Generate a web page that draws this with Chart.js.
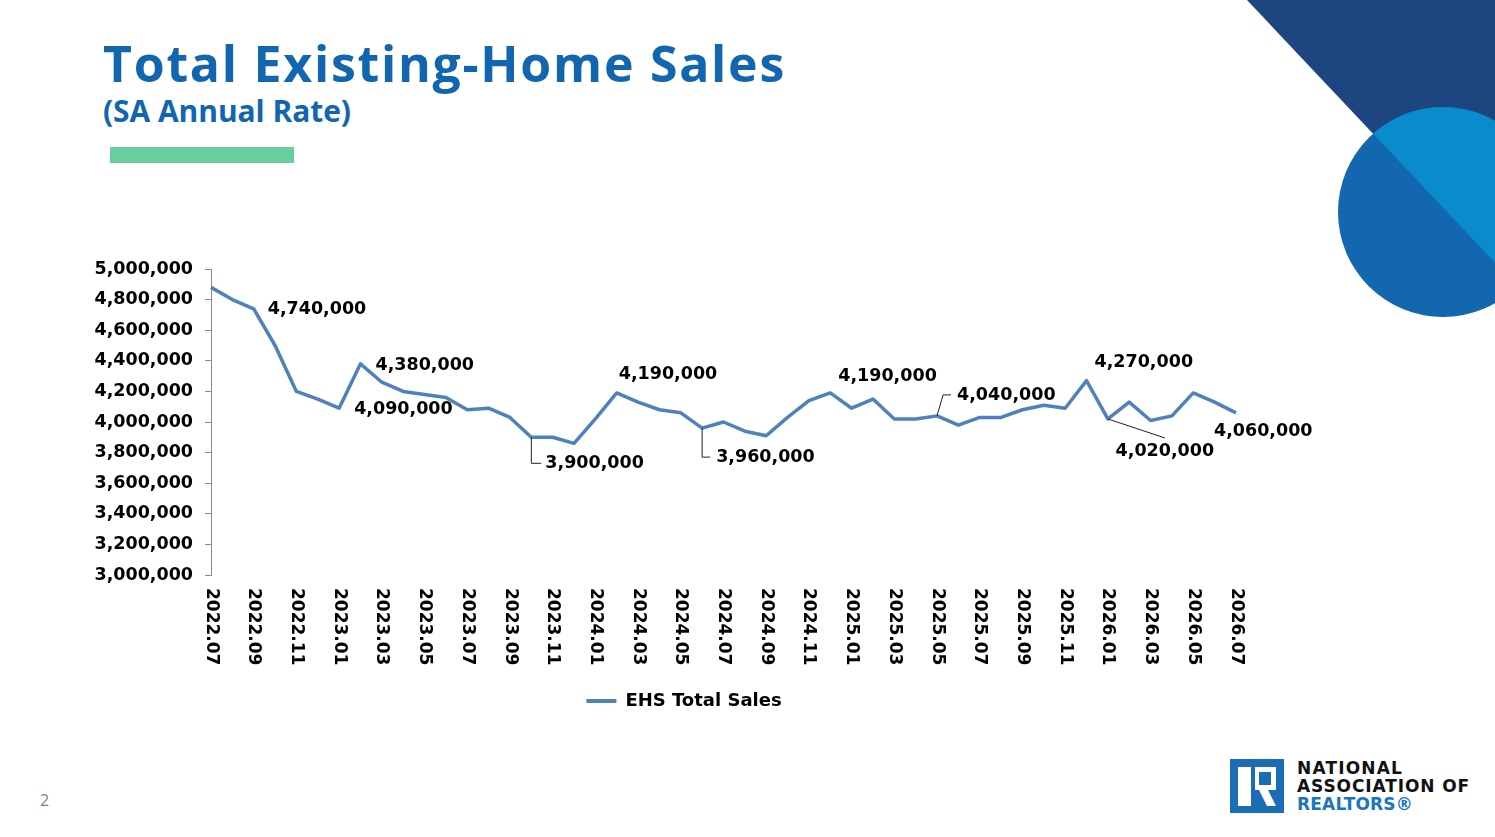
<!DOCTYPE html>
<html>
<head>
<meta charset="utf-8">
<script src="https://cdn.jsdelivr.net/npm/chart.js@4.4.1/dist/chart.umd.min.js"></script>
<style>
html,body{margin:0;padding:0;background:#fff;}
body{width:1495px;height:837px;overflow:hidden;position:relative;}
#deco{position:absolute;left:0;top:0;}
#wrap{position:absolute;left:0;top:0;width:1368px;height:837px;}
.fit{position:absolute;white-space:nowrap;}
#title{left:103px;top:38px;font:700 50px/50px 'Open Sans',sans-serif;color:#1266B0;}
#subtitle{left:103px;top:96px;font:700 30px/30px 'Open Sans',sans-serif;color:#1266B0;}
#bar{position:absolute;left:110px;top:147px;width:184px;height:16px;background:#66CF9B;}
#page{position:absolute;left:40px;top:792px;font:400 16px/16px 'Open Sans',sans-serif;color:#7f7f7f;}
.logo{position:absolute;left:1297px;font:700 17px/17px 'DejaVu Sans',sans-serif;color:#111;}
</style>
</head>
<body>
<svg id="deco" width="1495" height="837" viewBox="0 0 1495 837">
  <defs>
    <clipPath id="rightOfDiag"><polygon points="1247,0 1600,0 1600,374"/></clipPath>
  </defs>
  <polygon points="1247,0 1495,0 1495,263" fill="#1D4580"/>
  <circle cx="1443" cy="212" r="105" fill="#1267AE"/>
  <circle cx="1443" cy="212" r="105" fill="#0A8BCB" clip-path="url(#rightOfDiag)"/>
  <!-- NAR logo mark -->
  <rect x="1230" y="759" width="54" height="54" fill="#1B6DB5"/>
  <rect x="1238" y="767" width="13" height="39" fill="#fff"/>
  <path d="M1255 767 H1276 V790 H1268 L1276 806 H1267 L1259 790 H1255 Z M1259 772 V785 H1271 V772 Z" fill="#fff" fill-rule="evenodd"/>
</svg>

<div id="title" class="fit" data-w="683">Total Existing-Home Sales</div>
<div id="subtitle" class="fit" data-w="248">(SA Annual Rate)</div>
<div id="bar"></div>
<div id="page">2</div>
<div class="logo fit" style="top:760px" data-w="106">NATIONAL</div>
<div class="logo fit" style="top:778px" data-w="173">ASSOCIATION OF</div>
<div class="logo fit" style="top:796px;color:#1B75BC" data-w="116">REALTORS®</div>

<div id="wrap"><canvas id="c" width="1368" height="837"></canvas></div>

<script>
// ---- data ----
const months = [
  '2022.07','2022.08','2022.09','2022.10','2022.11','2022.12',
  '2023.01','2023.02','2023.03','2023.04','2023.05','2023.06',
  '2023.07','2023.08','2023.09','2023.10','2023.11','2023.12',
  '2024.01','2024.02','2024.03','2024.04','2024.05','2024.06',
  '2024.07','2024.08','2024.09','2024.10','2024.11','2024.12',
  '2025.01','2025.02','2025.03','2025.04','2025.05','2025.06',
  '2025.07','2025.08','2025.09','2025.10','2025.11','2025.12',
  '2026.01','2026.02','2026.03','2026.04','2026.05','2026.06',
  '2026.07'
];
const ehsTotalSales = [
  4880000, 4800000, 4740000, 4500000, 4200000, 4150000,
  4090000, 4380000, 4260000, 4200000, 4180000, 4160000,
  4080000, 4090000, 4030000, 3900000, 3900000, 3860000,
  4020000, 4190000, 4130000, 4080000, 4060000, 3960000,
  4000000, 3940000, 3910000, 4030000, 4140000, 4190000,
  4090000, 4150000, 4020000, 4020000, 4040000, 3980000,
  4030000, 4030000, 4080000, 4110000, 4090000, 4270000,
  4020000, 4130000, 4010000, 4040000, 4190000, 4130000,
  4060000
];
const seriesName = 'EHS Total Sales';
const yMin = 3000000, yMax = 5000000, yStep = 200000;
const annotatedIdx = [2, 6, 7, 15, 19, 23, 29, 34, 41, 42, 48];

// ---- styling helpers ----
const LINE_COLOR = '#4F81BD';
const FONT = '"DejaVu Sans", sans-serif';
const fmt = v => v.toLocaleString('en-US');

// label placement (offsets from the point, in px) and leader lines
const labelPlacement = {
  2:  {dx: 14, dy: 1},
  6:  {dx: 15, dy: 1},
  7:  {dx: 15, dy: 2},
  15: {dx: 14, dy: 26, leader: [[0,26],[10,26]]},
  19: {dx: 2,  dy: -18},
  23: {dx: 14, dy: 29, leader: [[0,29],[8,29]]},
  29: {dx: 8,  dy: -16},
  34: {dx: 20, dy: -20, leader: [[6,-21],[14,-21]]},
  41: {dx: 8,  dy: -18},
  42: {dx: 57, dy: 33, align: 'center', leader: [[57,19]]},
  48: {dx: -22, dy: 19}
};

const customDraw = {
  id: 'customDraw',
  afterDraw(chart) {
    const ctx = chart.ctx;
    const xs = chart.scales.x;
    const area = chart.chartArea;
    ctx.save();
    // rotated x labels (reading top-to-bottom)
    ctx.font = 'bold 17px ' + FONT;
    ctx.fillStyle = '#000';
    ctx.textAlign = 'left';
    ctx.textBaseline = 'middle';
    months.forEach((m, i) => {
      if (i % 2) return;
      const x = xs.getPixelForValue(i);
      ctx.save();
      ctx.translate(x, area.bottom + 13);
      ctx.rotate(Math.PI / 2);
      ctx.fillText(m, 0, 0);
      ctx.restore();
    });
    // data labels
    ctx.font = 'bold 17.5px ' + FONT;
    const meta = chart.getDatasetMeta(0);
    annotatedIdx.forEach(i => {
      const p = meta.data[i];
      const s = labelPlacement[i];
      if (s.leader) {
        ctx.beginPath();
        ctx.strokeStyle = '#222';
        ctx.lineWidth = 1;
        ctx.moveTo(p.x, p.y);
        s.leader.forEach(([lx, ly]) => ctx.lineTo(p.x + lx, p.y + ly));
        ctx.stroke();
      }
      ctx.textAlign = s.align || 'left';
      ctx.fillStyle = '#000';
      ctx.fillText(fmt(ehsTotalSales[i]), p.x + s.dx, p.y + s.dy);
    });
    ctx.restore();
  }
};

function fitTexts() {
  document.querySelectorAll('.fit').forEach(el => {
    const target = +el.dataset.w;
    el.style.letterSpacing = '0px';
    const w = el.getBoundingClientRect().width;
    const n = el.textContent.length;
    const ls = (target - w) / n;
    el.style.letterSpacing = ls.toFixed(2) + 'px';
  });
}

function build() {
  fitTexts();
  new Chart(document.getElementById('c'), {
    type: 'line',
    data: {
      labels: months,
      datasets: [{
        label: seriesName,
        data: ehsTotalSales,
        borderColor: LINE_COLOR,
        backgroundColor: LINE_COLOR,
        borderWidth: 3.5,
        pointRadius: 0,
        pointHoverRadius: 0,
        tension: 0,
        fill: false,
        borderJoinStyle: 'round'
      }]
    },
    options: {
      responsive: false,
      animation: false,
      layout: { padding: { top: 269, left: 0, right: 0, bottom: 117 } },
      scales: {
        x: {
          type: 'category',
          offset: false,
          grid: { display: false },
          border: { display: false },
          ticks: { display: false },
          afterFit: s => { s.height = 107; }
        },
        y: {
          min: yMin, max: yMax,
          grid: { display: true, drawOnChartArea: false, drawTicks: true, tickLength: 6, color: '#8a8a8a', lineWidth: 1 },
          border: { display: true, color: '#8a8a8a', width: 1 },
          ticks: {
            stepSize: yStep,
            padding: 12,
            color: '#000',
            font: { family: FONT, size: 17.5, weight: 'bold' },
            callback: v => fmt(v)
          },
          afterFit: s => { s.width = 211; }
        },
        yRight: {
          position: 'right',
          display: true,
          grid: { display: false },
          border: { display: false },
          ticks: { display: false },
          afterFit: s => { s.width = 132; }
        }
      },
      plugins: {
        tooltip: { enabled: false },
        legend: {
          position: 'bottom',
          labels: {
            boxWidth: 30,
            boxHeight: 4,
            padding: 10,
            color: '#000',
            font: { family: FONT, size: 18, weight: 'bold' },
            generateLabels: chart => {
              const items = Chart.defaults.plugins.legend.labels.generateLabels(chart);
              items.forEach(it => { it.lineWidth = 0; it.fillStyle = LINE_COLOR; });
              return items;
            }
          }
        }
      }
    },
    plugins: [customDraw]
  });
}
if (document.fonts && document.fonts.ready) {
  document.fonts.ready.then(build);
} else {
  build();
}
</script>
</body>
</html>
